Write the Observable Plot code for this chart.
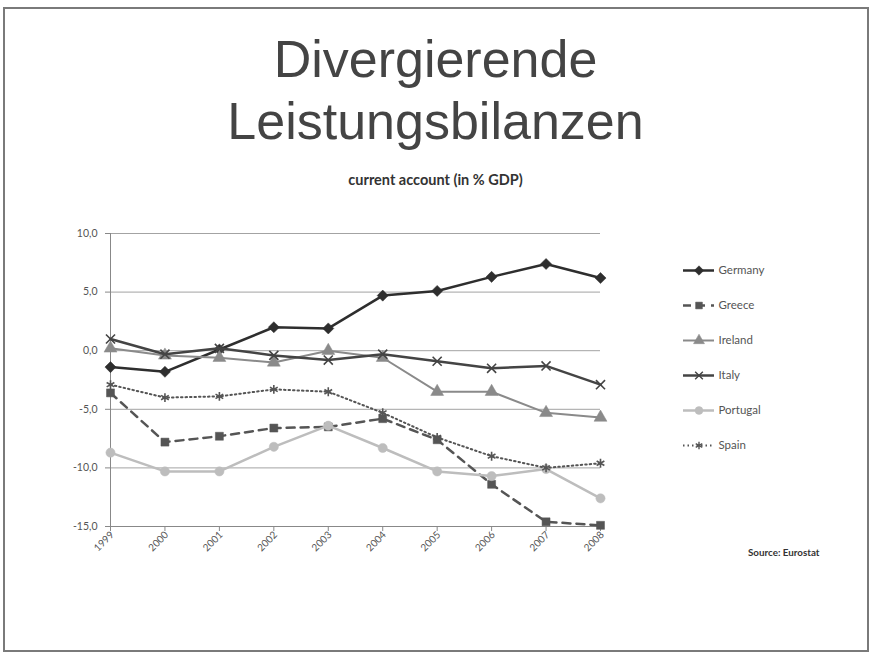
<!DOCTYPE html>
<html>
<head>
<meta charset="utf-8">
<script src="https://cdn.jsdelivr.net/npm/d3@7"></script>
<script src="https://cdn.jsdelivr.net/npm/@observablehq/plot@0.6"></script>
<style>
  html, body { margin: 0; padding: 0; background: #fff; }
  #page { position: relative; width: 871px; height: 653px; overflow: hidden; background: #fff; }
  #frame { position: absolute; left: 3px; top: 7px; width: 862px; height: 641px; border: 2px solid #7a7a7a; box-sizing: content-box; }
  #title { position: absolute; left: 0; top: 28px; width: 871px; text-align: center;
           font-family: "Liberation Sans", Arial, sans-serif; font-size: 52px; line-height: 62px; color: #444; }
  #subtitle { position: absolute; left: 0; top: 171px; width: 871px; text-align: center;
              font-family: Lato, "Open Sans", sans-serif; font-weight: bold; font-size: 14.5px; color: #333; }
  #chart { position: absolute; left: 0; top: 0; }
  #legend { position: absolute; left: 683px; top: 260px; }
  #source { position: absolute; left: 748px; top: 546px; font-family: Lato, sans-serif; font-weight: bold; font-size: 9.8px; color: #333; }
</style>
</head>
<body>
<div id="page">
  <div id="frame"></div>
  <div id="title">Divergierende<br>Leistungsbilanzen</div>
  <div id="subtitle">current account (in % GDP)</div>
  <div id="chart"></div>
  <div id="legend"></div>
  <div id="source">Source: Eurostat</div>
</div>
<script>
// ---- data ----
const years = [1999, 2000, 2001, 2002, 2003, 2004, 2005, 2006, 2007, 2008];
const countries = ["Germany", "Greece", "Ireland", "Italy", "Portugal", "Spain"];
const germany  = [-1.4, -1.8, 0.1, 2.0, 1.9, 4.7, 5.1, 6.3, 7.4, 6.2];
const greece   = [-3.6, -7.8, -7.3, -6.6, -6.5, -5.8, -7.6, -11.4, -14.6, -14.9];
const ireland  = [0.2, -0.4, -0.6, -1.0, 0.0, -0.6, -3.5, -3.5, -5.3, -5.7];
const italy    = [1.0, -0.3, 0.2, -0.4, -0.8, -0.3, -0.9, -1.5, -1.3, -2.9];
const portugal = [-8.7, -10.3, -10.3, -8.2, -6.4, -8.3, -10.3, -10.7, -10.1, -12.6];
const spain    = [-2.9, -4.0, -3.9, -3.3, -3.5, -5.3, -7.4, -9.0, -10.0, -9.6];
const yTicks = [-15, -10, -5, 0, 5, 10];

const seriesValues = [germany, greece, ireland, italy, portugal, spain];

// ---- styles ----
const colors   = ["#2e2e2e", "#555555", "#8a8a8a", "#444444", "#bdbdbd", "#555555"];
const widths   = [2.5, 2.5, 2, 2.5, 2.5, 2];
const dashes   = [null, "8,6", null, null, null, "1.5,3"];
const symbols  = ["diamond2", "square", "triangle", "times", "circle", "asterisk"];
const filled   = [true, true, true, false, true, false];
const radii    = [5, 4.5, 4.8, 4.2, 4.6, 4.2];

const rows = countries.flatMap((c, i) => years.map((y, j) => ({country: c, year: y, value: seriesValues[i][j]})));

const fmt = d => d.toFixed(1).replace(".", ",");

const marks = [
  Plot.gridY(yTicks, {stroke: "#999", strokeOpacity: 1, strokeWidth: 0.9}),
  Plot.ruleX([1999], {y1: -15, y2: 10, stroke: "#888", strokeWidth: 1}),
  Plot.ruleY([-15], {stroke: "#888", strokeWidth: 1}),
  Plot.axisY(yTicks, {tickFormat: fmt, tickSize: 5, tickPadding: 8, stroke: "#888", fill: "#555", fontSize: 10.5, label: null}),
  Plot.axisX(years, {tickFormat: () => "", tickSize: 5, stroke: "#888", label: null}),
  Plot.text(years, {x: d => d, text: d => String(d), frameAnchor: "bottom", rotate: -45, textAnchor: "end",
    dx: 4, dy: 9, fill: "#555", fontSize: 10})
];
countries.forEach((c, i) => {
  const data = rows.filter(r => r.country === c);
  marks.push(Plot.line(data, {x: "year", y: "value", stroke: colors[i], strokeWidth: widths[i],
    strokeDasharray: dashes[i] || undefined, strokeLinejoin: "round"}));
  marks.push(Plot.dot(data, {x: "year", y: "value", symbol: symbols[i], r: radii[i],
    fill: filled[i] ? colors[i] : "none", stroke: colors[i], strokeWidth: filled[i] ? 0.5 : 1.6}));
});

const chart = Plot.plot({
  width: 871, height: 653,
  marginLeft: 110, marginRight: 271, marginTop: 233, marginBottom: 127,
  x: {type: "linear", domain: [1999, 2008], axis: null},
  y: {domain: [-15, 10], axis: null},
  style: {background: "transparent", fontFamily: "Lato, 'Liberation Sans', sans-serif", color: "#555"},
  marks
});
document.getElementById("chart").appendChild(chart);

// ---- legend ----
const lmarks = [];
countries.forEach((c, i) => {
  lmarks.push(Plot.ruleY([c], {y: d => d, x1: 0, x2: 1, stroke: colors[i], strokeWidth: widths[i],
    strokeDasharray: dashes[i] || undefined}));
  lmarks.push(Plot.dot([c], {x: 0.5, y: d => d, symbol: symbols[i], r: radii[i] * 0.85,
    fill: filled[i] ? colors[i] : "none", stroke: colors[i], strokeWidth: filled[i] ? 0.5 : 1.4}));
  lmarks.push(Plot.text([c], {x: 1, y: d => d, text: d => d, dx: 4, textAnchor: "start", fill: "#555", fontSize: 11.5}));
});
const legend = Plot.plot({
  width: 140, height: 195,
  marginLeft: 0, marginRight: 109, marginTop: 10, marginBottom: 10,
  x: {domain: [0, 1], axis: null},
  y: {type: "point", domain: countries, padding: 0, axis: null},
  style: {background: "transparent", fontFamily: "Lato, 'Liberation Sans', sans-serif", overflow: "visible"},
  marks: lmarks
});
document.getElementById("legend").appendChild(legend);
</script>
</body>
</html>
